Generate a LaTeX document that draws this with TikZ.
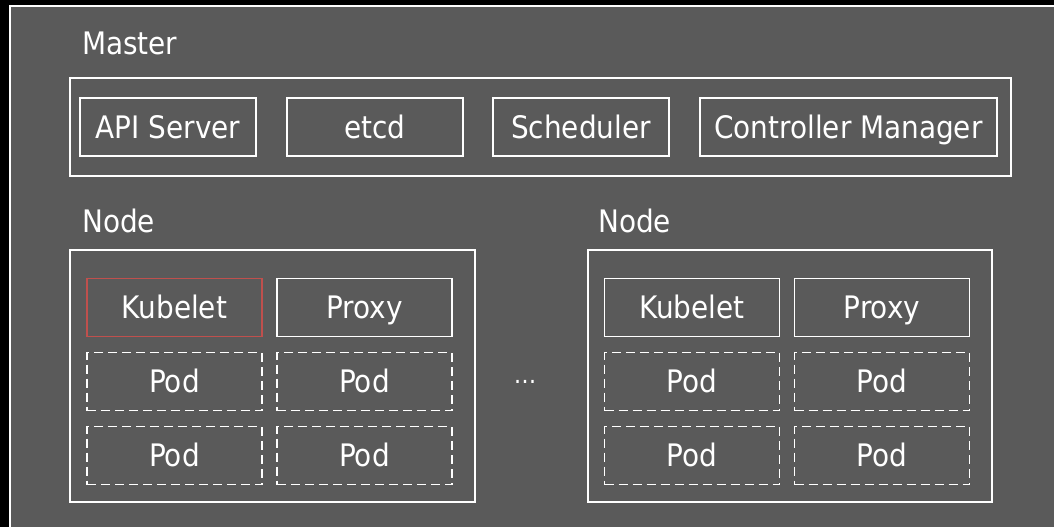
\documentclass[tikz,border=0pt]{standalone}
\usepackage{fontspec}
\setmainfont{DejaVu Sans Condensed}

\definecolor{bggray}{HTML}{5A5A5A}
\definecolor{kubered}{HTML}{C0504D}

\tikzset{
  comp/.style={draw=white, line width=1.8pt, text=white, inner sep=0pt,
    font=\fontsize{31}{37}\selectfont, text height=22.6pt, text depth=0pt,
    minimum height=58pt},
  podbox/.style={comp, dash pattern=on 9pt off 5pt},
  frame/.style={draw=white, line width=1.8pt, inner sep=0pt},
  title/.style={text=white, anchor=base west, inner sep=0pt,
    font=\fontsize{31}{37}\selectfont}
}

\begin{document}
\begin{tikzpicture}[x=1pt, y=-1pt]
  \useasboundingbox (0,0) rectangle (1054,527);
  \clip (0,0) rectangle (1054,527);
  \fill[black] (0,0) rectangle (1054,527);
  \draw[white, line width=1.2pt, fill=bggray] (10,6) rectangle (1070,540);

  % master
  \node[title] (mastertitle) at (82,55) {Master};
  \node[frame, minimum width=941pt, minimum height=98pt] (master) at (540.5,127) {};
  \node[comp, minimum width=176pt] (api) at (168,127) {API Server};
  \node[comp, minimum width=176pt] (etcd) at (375,127) {etcd};
  \node[comp, minimum width=176pt] (sched) at (581,127) {Scheduler};
  \node[comp, minimum width=297pt] (ctrl) at (848.5,127) {Controller Manager};

  % first node
  \node[title] (nodetitlea) at (82,232) {Node};
  \node[frame, minimum width=405pt, minimum height=252pt] (nodea) at (272.5,376) {};
  \node[comp, draw=kubered, minimum width=175pt] (kubeleta) at (174.5,307.5) {Kubelet};
  \node[comp, minimum width=175pt] (proxya) at (364.5,307.5) {Proxy};
  \node[podbox, minimum width=175pt] (podaa) at (174.5,381.5) {Pod};
  \node[podbox, minimum width=175pt] (podab) at (364.5,381.5) {Pod};
  \node[podbox, minimum width=175pt] (podac) at (174.5,455.5) {Pod};
  \node[podbox, minimum width=175pt] (podad) at (364.5,455.5) {Pod};

  \node[text=white, anchor=base, inner sep=0pt, font=\fontsize{25}{28}\selectfont] (dots) at (525,383) {…};

  % second node
  \node[title] (nodetitleb) at (598,232) {Node};
  \node[frame, minimum width=404pt, minimum height=252pt] (nodeb) at (790,376) {};
  \node[comp, minimum width=175pt] (kubeletb) at (692,307.5) {Kubelet};
  \node[comp, minimum width=175pt] (proxyb) at (882,307.5) {Proxy};
  \node[podbox, minimum width=175pt] (podba) at (692,381.5) {Pod};
  \node[podbox, minimum width=175pt] (podbb) at (882,381.5) {Pod};
  \node[podbox, minimum width=175pt] (podbc) at (692,455.5) {Pod};
  \node[podbox, minimum width=175pt] (podbd) at (882,455.5) {Pod};
\end{tikzpicture}
\end{document}
